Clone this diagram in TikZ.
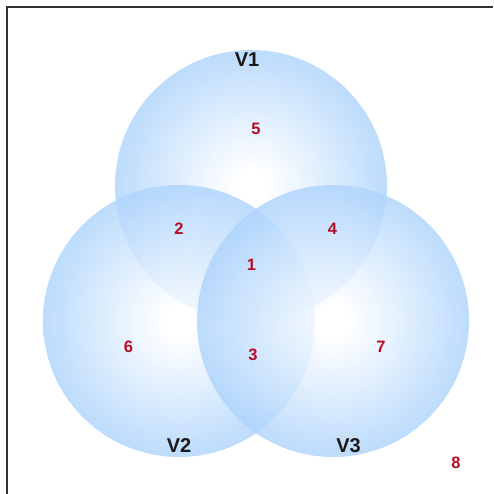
\documentclass[tikz,border=0pt]{standalone}
\usepackage{fontspec}
\setmainfont{Liberation Sans}
\definecolor{vblue}{RGB}{112,174,246}
\definecolor{vmid}{RGB}{176,213,252}
\definecolor{vwhite}{RGB}{255,255,255}
\definecolor{numred}{RGB}{180,12,35}
\definecolor{framegray}{RGB}{50,50,50}
\pgfdeclareradialshading{venn}{\pgfpoint{0bp}{0bp}}{color(0bp)=(vwhite); color(3bp)=(vwhite); color(24bp)=(vmid); color(50bp)=(vblue)}
\tikzset{
  vcircle/.style={circle, draw=none, inner sep=0pt, minimum size=272pt, shading=venn, fill opacity=0.8},
  setlabel/.style={font=\fontsize{20}{24}\selectfont\bfseries, text=black!90},
  region/.style={font=\fontsize{16.5}{19}\selectfont\bfseries, text=numred},
}
\begin{document}
\begin{tikzpicture}[x=1pt,y=-1pt]
\useasboundingbox (0,0) rectangle (493,494);
\fill[white] (0,0) rectangle (493,494);
\coordinate (fa) at (7,494);
\coordinate (fb) at (7,7);
\coordinate (fc) at (493,7);
\draw[framegray, line width=2.6pt] (fa) -- (fb) -- (fc);
\node[vcircle] (c1) at (251,186) {};
\node[vcircle] (c2) at (179,321) {};
\node[vcircle] (c3) at (333,321) {};
\node[setlabel] (l1) at (247,59.5) {V1};
\node[setlabel] (l2) at (179,445.5) {V2};
\node[setlabel] (l3) at (348.5,445.5) {V3};
\node[region] (r5) at (256,128.5) {5};
\node[region] (r2) at (179,228.5) {2};
\node[region] (r4) at (332.5,228.5) {4};
\node[region] (r1) at (251.5,264.5) {1};
\node[region] (r6) at (128.5,346.5) {6};
\node[region] (r3) at (253,355) {3};
\node[region] (r7) at (381,347) {7};
\node[region] (r8) at (456,463) {8};
\end{tikzpicture}
\end{document}
